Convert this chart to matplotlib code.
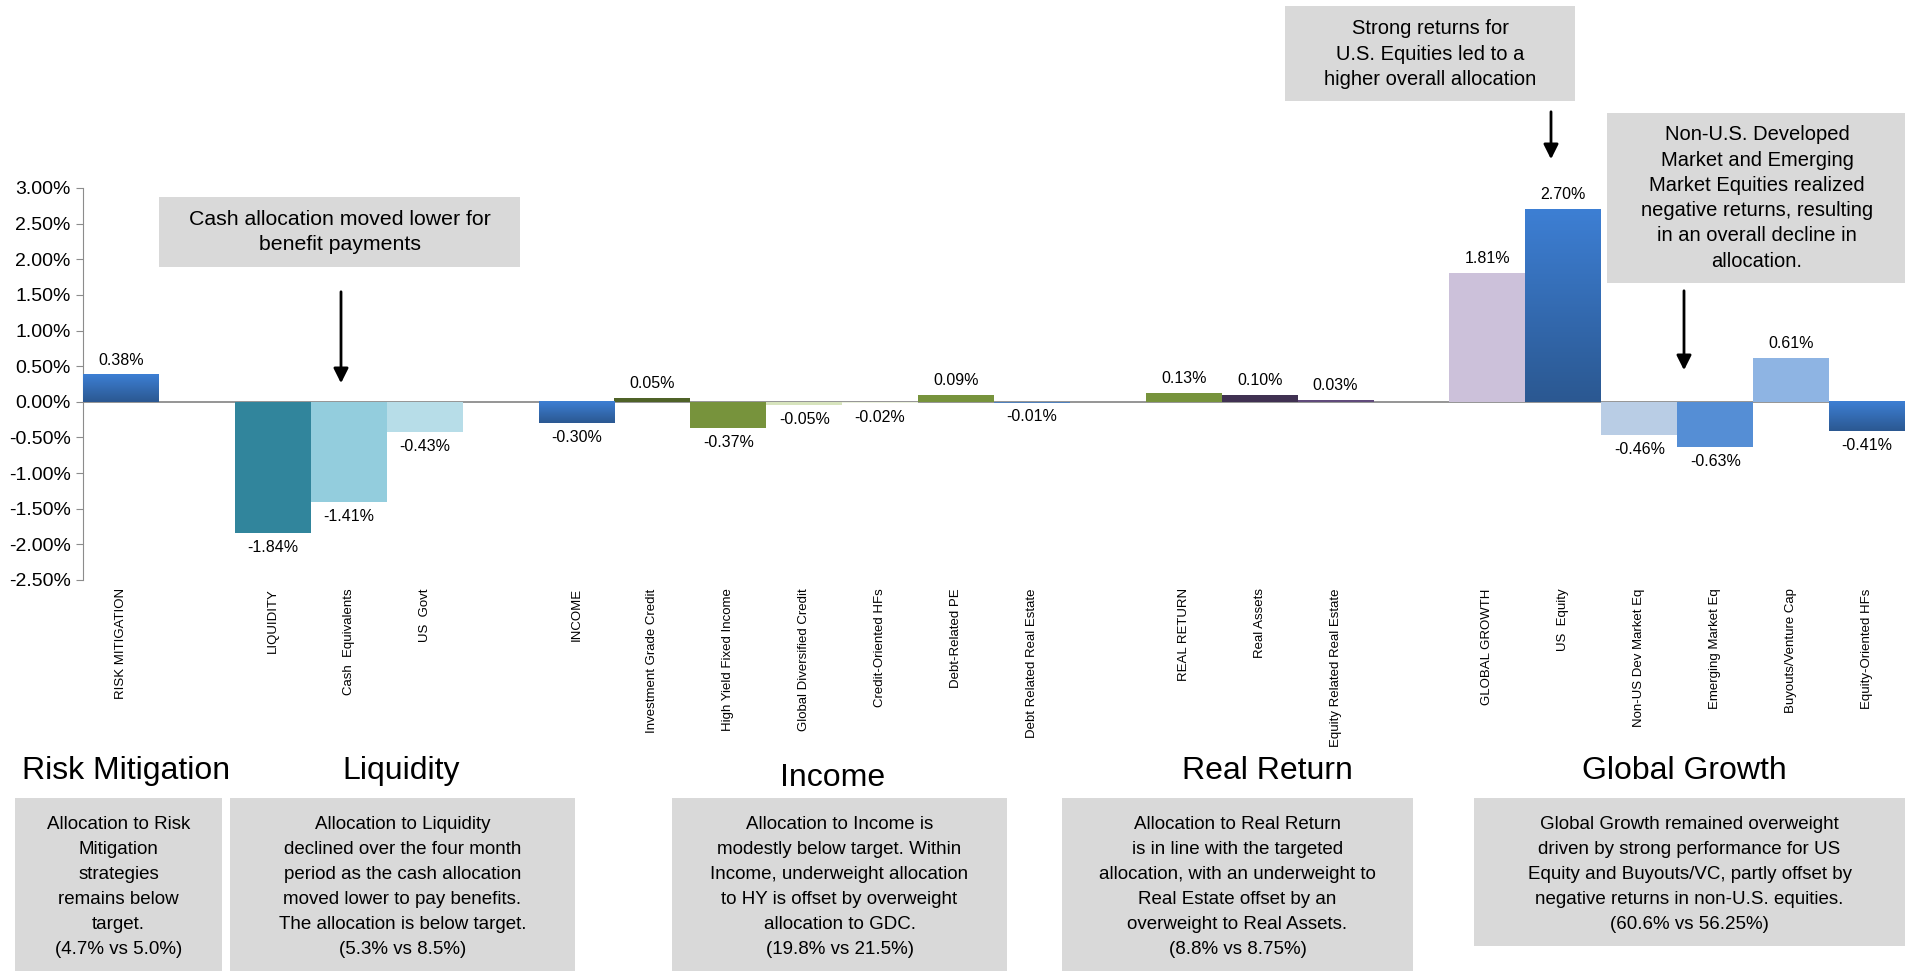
import numpy as np
import matplotlib.pyplot as plt
from matplotlib.patches import Rectangle
from matplotlib.colors import LinearSegmentedColormap

plt.rcParams['font.family'] = ['Liberation Sans', 'DejaVu Sans']

# data
categories = ['RISK MITIGATION', 'LIQUIDITY', 'Cash  Equivalents', 'US  Govt',
              'INCOME', 'Investment Grade Credit', 'High Yield Fixed Income',
              'Global Diversified Credit', 'Credit-Oriented HFs', 'Debt-Related PE',
              'Debt Related Real Estate', 'REAL RETURN', 'Real Assets',
              'Equity Related Real Estate', 'GLOBAL GROWTH', 'US  Equity',
              'Non-US Dev Market Eq', 'Emerging Market Eq', 'Buyouts/Venture Cap',
              'Equity-Oriented HFs']
groups = [0, 1, 1, 1, 2, 2, 2, 2, 2, 2, 2, 3, 3, 3, 4, 4, 4, 4, 4, 4]
values = [0.38, -1.84, -1.41, -0.43, -0.30, 0.05, -0.37, -0.05, -0.02, 0.09,
          -0.01, 0.13, 0.10, 0.03, 1.81, 2.70, -0.46, -0.63, 0.61, -0.41]
colors = ['grad', '#31859c', '#93cddd', '#b7dde8', 'grad', '#4f6228', '#77933c',
          '#d7e4bd', '#ebf1de', '#77933c', '#4f81bd', '#77933c', '#403152',
          '#604a7b', '#ccc1da', 'grad', '#b9cde5', '#558ed5', '#8eb4e3', 'grad']

group_titles = ['Risk Mitigation', 'Liquidity', 'Income', 'Real Return', 'Global Growth']
group_notes = [
    'Allocation to Risk\nMitigation\nstrategies\nremains below\ntarget.\n(4.7% vs 5.0%)',
    'Allocation to Liquidity\ndeclined over the four month\nperiod as the cash allocation\n'
    'moved lower to pay benefits.\nThe allocation is below target.\n(5.3% vs 8.5%)',
    'Allocation to Income is\nmodestly below target. Within\nIncome, underweight allocation\n'
    'to HY is offset by overweight\nallocation to GDC.\n(19.8% vs 21.5%)',
    'Allocation to Real Return\nis in line with the targeted\nallocation, with an underweight to\n'
    'Real Estate offset by an\noverweight to Real Assets.\n(8.8% vs 8.75%)',
    'Global Growth remained overweight\ndriven by strong performance for US\n'
    'Equity and Buyouts/VC, partly offset by\nnegative returns in non-U.S. equities.\n(60.6% vs 56.25%)',
]

W, H = 1905, 971
fig = plt.figure(figsize=(W / 100, H / 100), dpi=100)
ax = fig.add_axes([83 / W, 1 - 580 / H, 1 - 83 / W, (580 - 188) / H])
ax.patch.set_alpha(0)

x = np.arange(len(categories)) + np.array(groups)
bars = ax.bar(x, values, width=1.0, color=[c if c != 'grad' else 'none' for c in colors],
              edgecolor='none', zorder=3)

blue = LinearSegmentedColormap.from_list('blue', ['#2b5891', '#3d7fd4'])
grad = np.linspace(0, 1, 128).reshape(-1, 1)
for bar, c in zip(bars, colors):
    if c == 'grad':
        x0, w = bar.get_x(), bar.get_width()
        y0, h = bar.get_y(), bar.get_height()
        ax.imshow(grad, extent=(x0, x0 + w, min(y0, y0 + h), max(y0, y0 + h)),
                  aspect='auto', cmap=blue, origin='lower', zorder=3)

ax.axhline(0, color='#8c8c8c', lw=1.3, zorder=2)

for xi, v in zip(x, values):
    ax.annotate(f'{v:.2f}%', (xi, v), xytext=(0, 5 if v >= 0 else -5),
                textcoords='offset points', ha='center',
                va='bottom' if v >= 0 else 'top', fontsize=11.5)

ax.set_xlim(-0.5, x[-1] + 0.5)
ax.set_ylim(-2.5, 3.0)
ax.set_yticks(np.arange(-2.5, 3.01, 0.5))
ax.set_yticklabels([f'{t:.2f}%' for t in np.arange(-2.5, 3.01, 0.5)], fontsize=14)
ax.set_xticks(x)
ax.set_xticklabels(categories, rotation=90, va='top', fontsize=9.5)
ax.tick_params(axis='x', length=0, pad=6)
ax.tick_params(axis='y', direction='out', length=5, color='#8c8c8c', pad=4)
for s in ['top', 'right', 'bottom']:
    ax.spines[s].set_visible(False)
ax.spines['left'].set_color('#8c8c8c')


def box(x0, y0, x1, y1):
    fig.add_artist(Rectangle((x0 / W, 1 - y1 / H), (x1 - x0) / W, (y1 - y0) / H,
                             transform=fig.transFigure, facecolor='#d9d9d9',
                             edgecolor='none', zorder=1))


def arrow(xp, y_tail, y_head):
    ax.annotate('', xy=(xp, H - y_head), xycoords='figure pixels',
                xytext=(xp, H - y_tail), textcoords='figure pixels',
                arrowprops=dict(arrowstyle='-|>', color='black', lw=2,
                                mutation_scale=22), annotation_clip=False)


# callouts
box(159, 197, 520, 267)
fig.text(340 / W, 1 - 232 / H, 'Cash allocation moved lower for\nbenefit payments',
         ha='center', va='center', fontsize=15.3, linespacing=1.44, zorder=3)
arrow(341, 289, 386)

box(1285, 6, 1575, 101)
fig.text(1430 / W, 1 - 54 / H, 'Strong returns for\nU.S. Equities led to a\nhigher overall allocation',
         ha='center', va='center', fontsize=14.5, linespacing=1.46, zorder=3)
arrow(1551, 109, 162)

box(1607, 113, 1905, 283)
fig.text(1757 / W, 1 - 198 / H,
         'Non-U.S. Developed\nMarket and Emerging\nMarket Equities realized\n'
         'negative returns, resulting\nin an overall decline in\nallocation.',
         ha='center', va='center', fontsize=14.5, linespacing=1.42, zorder=3)
arrow(1684, 288, 373)

# group summaries
title_pos = [(126, 771), (401, 771), (833, 778), (1267, 771), (1684, 771)]
note_boxes = [(15, 222, 971), (230, 575, 971), (672, 1007, 971),
              (1062, 1413, 971), (1474, 1905, 946)]
for (tx, ty), (bx0, bx1, by1), title, note in zip(title_pos, note_boxes, group_titles, group_notes):
    fig.text(tx / W, 1 - ty / H, title, ha='center', va='center', fontsize=23)
    box(bx0, 798, bx1, by1)
    fig.text((bx0 + bx1) / 2 / W, 1 - 816 / H, note, ha='center', va='top',
             fontsize=13.5, linespacing=1.62, zorder=3)

fig.savefig('out.png', dpi=100)
